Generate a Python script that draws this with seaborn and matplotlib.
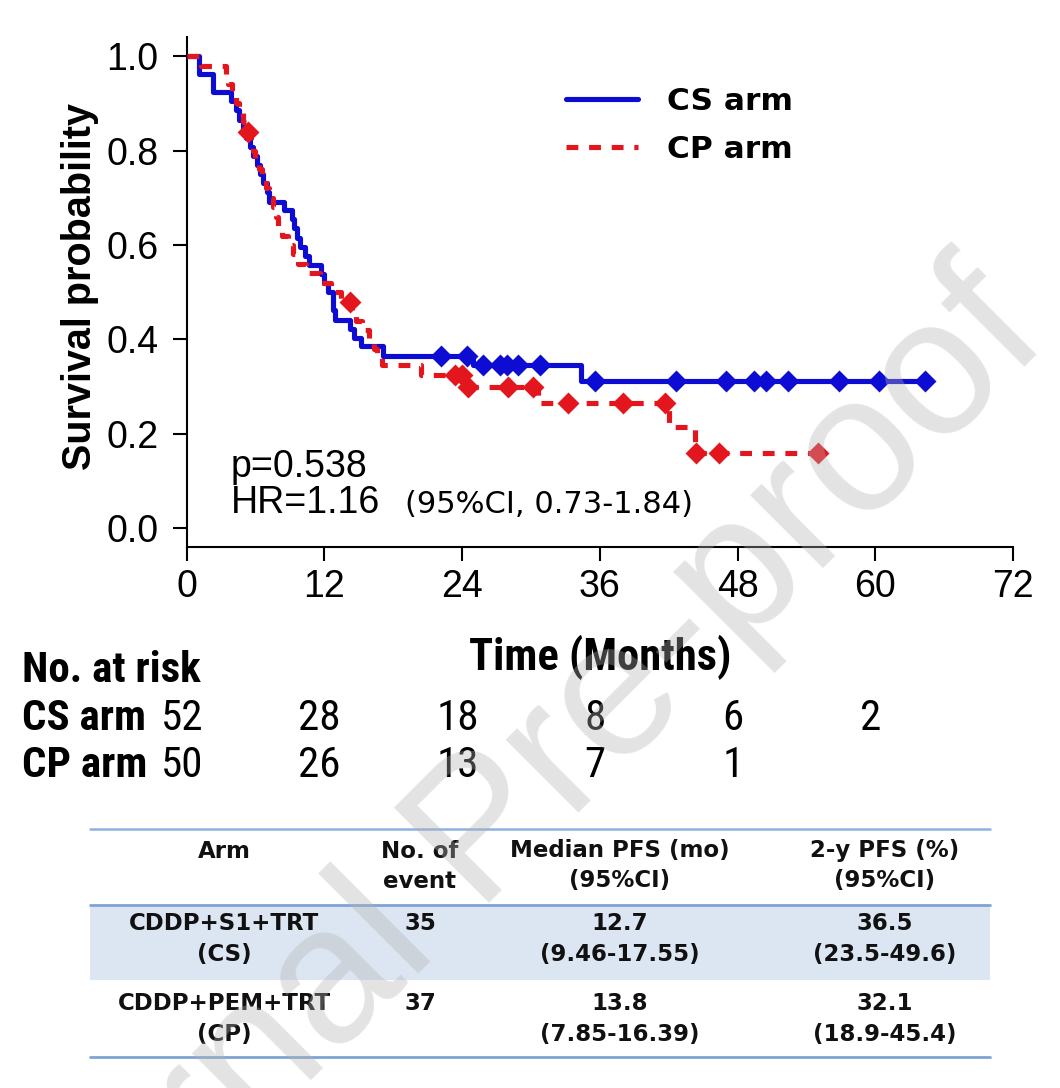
import numpy as np
import pandas as pd
import matplotlib
matplotlib.use("Agg")
import matplotlib.pyplot as plt
import matplotlib.transforms as mtransforms
from matplotlib import font_manager
from matplotlib.patches import Rectangle
import seaborn as sns

# ---------------- data ----------------
cs_event_t = [0, 1.1, 2.3, 3.9, 4.3, 4.6, 4.9, 5.2, 5.5, 5.8, 6.1, 6.4, 6.7, 7.0, 7.2,
              8.5, 9.2, 9.4, 9.6, 9.85, 10.3, 10.7, 11.7, 12.0, 12.3, 12.75, 12.8, 12.9,
              14.2, 14.6, 15.2, 17.1, 24.95, 34.4]
cs_surv = [1.0, 0.962, 0.923, 0.904, 0.885, 0.865, 0.846, 0.827, 0.808, 0.788, 0.769,
           0.750, 0.731, 0.712, 0.692, 0.673, 0.654, 0.635, 0.615, 0.596, 0.577, 0.558,
           0.538, 0.519, 0.500, 0.481, 0.462, 0.442, 0.423, 0.404, 0.385, 0.365, 0.346, 0.312]
cs_censor_t = [22.2, 24.4, 25.8, 27.3, 27.9, 28.9, 30.8, 35.6, 42.6, 47.0, 49.4, 50.5,
               52.4, 56.8, 60.3, 64.3]

cp_event_t = [0, 1.3, 3.4, 3.6, 4.0, 4.3, 4.6, 4.9, 5.2, 5.6, 5.8, 6.0, 6.3, 6.6, 6.9,
              7.2, 7.5, 7.8, 8.0, 8.3, 8.8, 9.3, 9.7, 10.4, 11.6, 12.6, 13.5, 14.4, 14.8,
              15.3, 15.9, 16.3, 16.6, 17.0, 20.4, 24.2, 30.6, 42.0, 44.3]
cp_surv = [1.0, 0.98, 0.96, 0.94, 0.92, 0.90, 0.88, 0.86, 0.84, 0.82, 0.80, 0.78, 0.76,
           0.74, 0.72, 0.70, 0.68, 0.66, 0.64, 0.62, 0.60, 0.58, 0.56, 0.54, 0.52, 0.50,
           0.48, 0.46, 0.44, 0.42, 0.40, 0.38, 0.36, 0.345, 0.325, 0.30, 0.266, 0.215, 0.160]
cp_censor_t = [5.35, 14.2, 23.4, 24.0, 24.5, 28.0, 30.2, 33.2, 38.0, 41.7, 44.4, 46.4, 55.0]

arm_labels = ["CS arm", "CP arm"]
x_ticks = [0, 12, 24, 36, 48, 60, 72]
y_ticks = [0.0, 0.2, 0.4, 0.6, 0.8, 1.0]
risk_times = [0, 12, 24, 36, 48, 60]
cs_at_risk = [52, 28, 18, 8, 6, 2]
cp_at_risk = [50, 26, 13, 7, 1]

p_text = "p=0.538"
hr_text = "HR=1.16"
ci_text = "(95%CI, 0.73-1.84)"

table_header = ["Arm", "No. of\nevent", "Median PFS (mo)\n(95%CI)", "2-y PFS (%)\n(95%CI)"]
table_cs = ["CDDP+S1+TRT\n(CS)", "35", "12.7\n(9.46-17.55)", "36.5\n(23.5-49.6)"]
table_cp = ["CDDP+PEM+TRT\n(CP)", "37", "13.8\n(7.85-16.39)", "32.1\n(18.9-45.4)"]

watermark = "Journal Pre-proof"

# ---------------- style ----------------
sns.set_style("ticks")
names = {f.name for f in font_manager.fontManager.ttflist}
NARROW, nscale = "Liberation Sans", 0.86
for cand in ["Liberation Sans Narrow", "Arial Narrow", "Roboto Condensed"]:
    if cand in names:
        NARROW, nscale = cand, 1.0
        break
plt.rcParams["font.family"] = ["Liberation Sans", "DejaVu Sans"]
for key in ["text.color", "axes.labelcolor", "xtick.color", "ytick.color", "axes.edgecolor"]:
    plt.rcParams[key] = "black"

BLUE = "#0c0cd2"
RED = "#e3161d"

W, H = 1060, 1088
fig = plt.figure(figsize=(W / 100, H / 100), dpi=100)


def fx(px):
    return px / W


def fy(py):
    return 1 - py / H


def ptext(x, y, s, **kw):
    return fig.text(fx(x), fy(y), s, **kw)


ax = fig.add_axes([fx(186.5), fy(546.7), fx(1013) - fx(186.5), fy(36.7) - fy(546.7)])


def step_df(t, s, cens):
    end = max(cens)
    return pd.DataFrame({"t": list(t) + [end], "s": list(s) + [s[-1]]})


def censor_df(t, s, cens):
    idx = np.searchsorted(np.asarray(t), np.asarray(cens), side="right") - 1
    return pd.DataFrame({"t": cens, "s": np.asarray(s)[idx]})


cs_df = step_df(cs_event_t, cs_surv, cs_censor_t)
cp_df = step_df(cp_event_t, cp_surv, cp_censor_t)

sns.lineplot(data=cs_df, x="t", y="s", ax=ax, color=BLUE, lw=3.7, drawstyle="steps-post",
             estimator=None, sort=False, label=arm_labels[0], zorder=3)
sns.lineplot(data=cp_df, x="t", y="s", ax=ax, color=RED, lw=3.7, drawstyle="steps-post",
             estimator=None, sort=False, label=arm_labels[1], zorder=4)
ax.lines[1].set_dashes((2.3, 2.1))

sns.scatterplot(data=censor_df(cs_event_t, cs_surv, cs_censor_t), x="t", y="s", ax=ax,
                marker="D", s=125, color=BLUE, linewidth=0, zorder=5, legend=False)
sns.scatterplot(data=censor_df(cp_event_t, cp_surv, cp_censor_t), x="t", y="s", ax=ax,
                marker="D", s=125, color=RED, linewidth=0, zorder=6, legend=False)

ax.set_xlim(0, 72)
ax.set_ylim(-0.039, 1.041)
ax.set_xticks(x_ticks)
ax.set_yticks(y_ticks)
ax.set_yticklabels([f"{v:.1f}" for v in y_ticks])
ax.set_xlabel("")
ax.set_ylabel("")
for side in ["top", "right"]:
    ax.spines[side].set_visible(False)
for side in ["left", "bottom"]:
    ax.spines[side].set_linewidth(1.5)
ax.tick_params(axis="both", direction="out", length=10, width=1.5, labelsize=27, colors="black")
ax.tick_params(axis="y", pad=10)
ax.tick_params(axis="x", pad=6)

leg = ax.legend(loc="upper left", bbox_to_anchor=(0.44, 0.932), frameon=False,
                prop={"family": "DejaVu Sans", "weight": "bold", "size": 22.5},
                handlelength=2.3, handletextpad=0.95, labelspacing=0.6, borderpad=0)

# annotations
ptext(231, 477, p_text, fontsize=27, va="baseline", ha="left")
ptext(231, 513, hr_text, fontsize=27, va="baseline", ha="left")
ptext(405, 513, ci_text, fontsize=22, va="baseline", ha="left", family="DejaVu Sans")

ptext(80, 286, "Survival probability", fontsize=28.5, fontweight="bold", rotation=90,
      ha="center", va="center")
ptext(600, 670, "Time (Months)", fontsize=32 * nscale, fontweight="bold", family=NARROW,
      ha="center", va="baseline")

# number at risk
ptext(22, 682, "No. at risk", fontsize=31 * nscale, fontweight="bold", family=NARROW,
      ha="left", va="baseline")
ptext(22, 730, arm_labels[0], fontsize=31 * nscale, fontweight="bold", family=NARROW,
      ha="left", va="baseline")
ptext(22, 777, arm_labels[1], fontsize=31 * nscale, fontweight="bold", family=NARROW,
      ha="left", va="baseline")
btr = mtransforms.blended_transform_factory(ax.transData, fig.transFigure)
for t, n in zip(risk_times, cs_at_risk):
    fig.text(t - 0.4, fy(730), str(n), transform=btr, fontsize=31 * nscale, family=NARROW,
             ha="center", va="baseline")
for t, n in zip(risk_times, cp_at_risk):
    fig.text(t - 0.4, fy(777), str(n), transform=btr, fontsize=31 * nscale, family=NARROW,
             ha="center", va="baseline")

# summary table (pixel coordinate axes)
tab = fig.add_axes([0, 0, 1, 1], zorder=-1)
tab.set_xlim(0, W)
tab.set_ylim(H, 0)
tab.axis("off")
tab.add_patch(Rectangle((90, 906), 900, 74, facecolor="#dce6f2", edgecolor="none"))
tab.plot([90, 990], [829, 829], color="#8fb1dd", lw=1.8)
tab.plot([90, 990], [905, 905], color="#7fa3d3", lw=2.0)
tab.plot([90, 990], [1057, 1057], color="#7fa3d3", lw=2.0)
col_x = [224, 420, 620, 885]
row_y = [851, 924, 1004]
tkw = dict(family="DejaVu Sans", fontweight="bold", fontsize=16.5, ha="center", va="center",
           color="#111111")
for ry, row in zip(row_y, [table_header, table_cs, table_cp]):
    for cx, cell in zip(col_x, row):
        for i, line in enumerate(cell.split("\n")):
            tab.text(cx, ry + i * 30, line, **tkw)

# watermark
ptext(484, 836, watermark, fontsize=140, rotation=45, ha="center", va="center",
      color=(0.7, 0.7, 0.7), alpha=0.36, zorder=100)

fig.savefig("out.png", dpi=100)
